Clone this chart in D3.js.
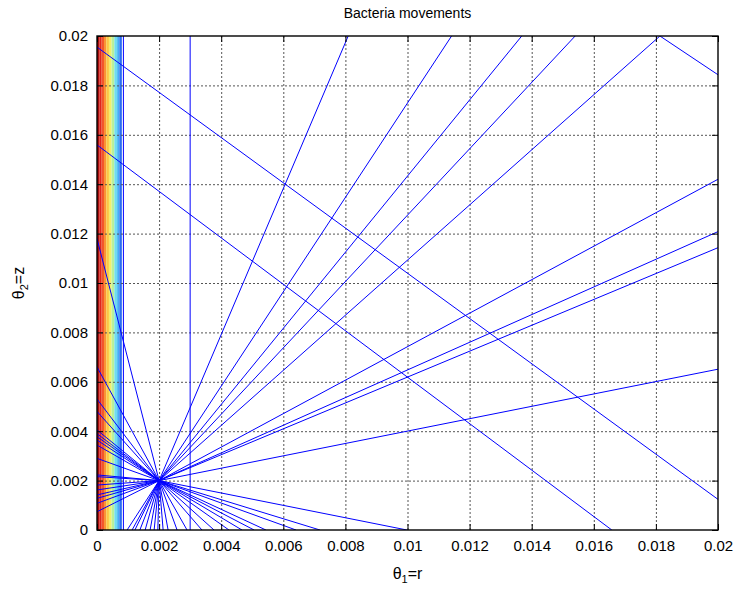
<!DOCTYPE html>
<html>
<head>
<meta charset="utf-8">
<script src="https://cdn.jsdelivr.net/npm/d3@7"></script>
<style>
  body { margin: 0; background: #fff; }
  svg { display: block; font-family: "Liberation Sans", Arial, sans-serif; }
</style>
</head>
<body>
<svg width="739" height="591"></svg>
<script>
const svg = d3.select("svg");

// tick values / labels
const tickValues = [0, 0.002, 0.004, 0.006, 0.008, 0.01, 0.012, 0.014, 0.016, 0.018, 0.02];
const tickLabels = ["0", "0.002", "0.004", "0.006", "0.008", "0.01", "0.012", "0.014", "0.016", "0.018", "0.02"];

// all movements start from this point
const hub = [0.002, 0.002];
// where the movements hit the walls
const leftY = [0.0118, 0.0066, 0.0053, 0.0048, 0.00405, 0.0039, 0.00378, 0.00364, 0.00344, 0.0029,
               0.00223, 0.00216, 0.00182, 0.00162, 0.00142, 0.00128, 0.00108, 0.00074];
const bottomX = [0.00097, 0.00113, 0.00122, 0.00138, 0.00155, 0.00171, 0.00184, 0.00196, 0.00213, 0.00229,
                 0.00258, 0.0029, 0.00338, 0.00377, 0.00425, 0.00467, 0.00506, 0.00544, 0.00641, 0.00718, 0.00998];
const rightY = [0.0142, 0.01208, 0.01143, 0.00651];
const topX = [0.00809, 0.01142, 0.01368, 0.0154, 0.01813];
// other segments [x1, y1, x2, y2]
const otherSegs = [[0, 0.01955, 0.02, 0.00124], [0, 0.01559, 0.01658, 0], [0.01813, 0.02, 0.02, 0.01843]];
const verticals = [0.00085, 0.003];

// filled contour bands near r = 0
const bandEdges = [0, 0.000075, 0.00015, 0.000225, 0.0003, 0.000385, 0.00047, 0.00056, 0.00065, 0.00072, 0.0008];
const bandColors = ["#a8100f", "#e0261b", "#f2562a", "#f99435", "#fbc845", "#f3ee6a", "#b8f09a", "#6fdcf0", "#45aef5", "#2a6cf2"];

const pl = 97, pr = 718, pt = 36, pb = 530;
const x = d3.scaleLinear().domain([0, 0.02]).range([pl, pr]);
const y = d3.scaleLinear().domain([0, 0.02]).range([pb, pt]);

svg.append("defs").append("clipPath").attr("id", "clip")
  .append("rect").attr("x", pl).attr("y", pt).attr("width", pr - pl).attr("height", pb - pt);

// bands
svg.append("g").selectAll("rect")
  .data(bandColors)
  .enter().append("rect")
  .attr("x", (d, i) => x(bandEdges[i]))
  .attr("width", (d, i) => x(bandEdges[i + 1]) - x(bandEdges[i]))
  .attr("y", pt)
  .attr("height", pb - pt)
  .attr("fill", d => d);

// grid
const grid = svg.append("g").attr("stroke", "#555").attr("stroke-dasharray", "2,2").attr("stroke-width", 1);
grid.selectAll(".gx").data(tickValues.slice(1, -1)).enter().append("line")
  .attr("x1", d => x(d) + 0.5).attr("x2", d => x(d) + 0.5).attr("y1", pt).attr("y2", pb);
grid.selectAll(".gy").data(tickValues.slice(1, -1)).enter().append("line")
  .attr("y1", d => y(d) + 0.5).attr("y2", d => y(d) + 0.5).attr("x1", pl).attr("x2", pr);

// movement segments
const segs = [];
leftY.forEach(v => segs.push([hub[0], hub[1], 0, v]));
bottomX.forEach(v => segs.push([hub[0], hub[1], v, 0]));
rightY.forEach(v => segs.push([hub[0], hub[1], 0.02, v]));
topX.forEach(v => segs.push([hub[0], hub[1], v, 0.02]));
otherSegs.forEach(s => segs.push(s));
verticals.forEach(v => segs.push([v, 0, v, 0.02]));

svg.append("g").attr("clip-path", "url(#clip)")
  .selectAll("line").data(segs).enter().append("line")
  .attr("x1", d => x(d[0])).attr("y1", d => y(d[1]))
  .attr("x2", d => x(d[2])).attr("y2", d => y(d[3]))
  .attr("stroke", "#0000ff").attr("stroke-width", 1);

// axes, ticks inward
const fmt = (d, i) => tickLabels[i];
const axL = svg.append("g").attr("transform", `translate(${pl},0)`)
  .call(d3.axisLeft(y).tickValues(tickValues).tickFormat(fmt).tickSizeInner(-6).tickSizeOuter(0).tickPadding(9));
const axB = svg.append("g").attr("transform", `translate(0,${pb})`)
  .call(d3.axisBottom(x).tickValues(tickValues).tickFormat(fmt).tickSizeInner(-6).tickSizeOuter(0).tickPadding(10));
const axT = svg.append("g").attr("transform", `translate(0,${pt})`)
  .call(d3.axisTop(x).tickValues(tickValues).tickFormat("").tickSizeInner(-6).tickSizeOuter(0));
const axR = svg.append("g").attr("transform", `translate(${pr},0)`)
  .call(d3.axisRight(y).tickValues(tickValues).tickFormat("").tickSizeInner(-6).tickSizeOuter(0));
[axL, axB, axT, axR].forEach(a => {
  a.select(".domain").remove();
  a.selectAll("line").attr("stroke", "#000");
  a.selectAll("text").attr("font-size", 15).attr("fill", "#000").attr("font-family", "Liberation Sans, Arial, sans-serif");
});

// box
svg.append("rect").attr("x", pl).attr("y", pt).attr("width", pr - pl).attr("height", pb - pt)
  .attr("fill", "none").attr("stroke", "#000").attr("stroke-width", 1.4);

// title and labels
svg.append("text").attr("x", (pl + pr) / 2).attr("y", 18).attr("text-anchor", "middle")
  .attr("font-size", 14).text("Bacteria movements");

const xl = svg.append("text").attr("x", (pl + pr) / 2).attr("y", 579).attr("text-anchor", "middle").attr("font-size", 16);
xl.append("tspan").text("θ");
xl.append("tspan").attr("font-size", 11).attr("dy", 4).text("1");
xl.append("tspan").attr("dy", -4).text("=r");

const yl = svg.append("text").attr("transform", `translate(24,${(pt + pb) / 2}) rotate(-90)`)
  .attr("text-anchor", "middle").attr("font-size", 16);
yl.append("tspan").text("θ");
yl.append("tspan").attr("font-size", 11).attr("dy", 4).text("2");
yl.append("tspan").attr("dy", -4).text("=z");
</script>
</body>
</html>
